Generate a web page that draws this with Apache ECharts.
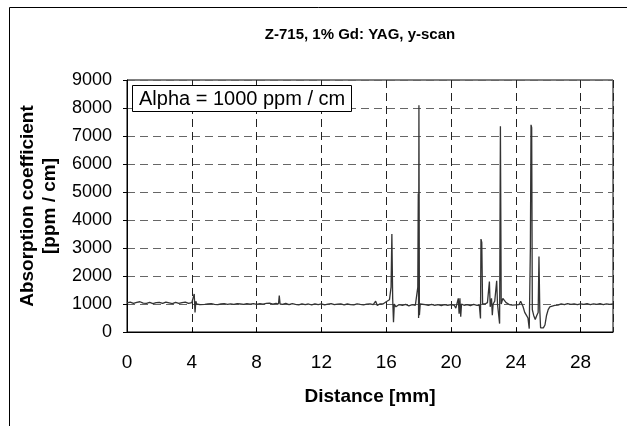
<!DOCTYPE html>
<html>
<head>
<meta charset="utf-8">
<script src="https://cdn.jsdelivr.net/npm/echarts@6/dist/echarts.min.js"></script>
<style>
html, body { margin: 0; padding: 0; background: #fff; }
#container { width: 627px; height: 426px; }
</style>
</head>
<body>
<div id="container"></div>
<script>
// scan position (mm) and absorption (ppm/cm)
var distance = [
	0, 0.2, 0.4, 0.6, 0.8, 1.0, 1.2, 1.4, 1.6, 1.8, 2.0, 2.2, 2.4, 2.6, 2.8, 3.0, 3.2, 3.4, 3.6, 3.8,
	4.0, 4.1, 4.15, 4.2, 4.25, 4.3, 4.5, 4.6, 4.8, 5.0, 5.2, 5.4, 5.6, 5.8, 6.0, 6.2, 6.4, 6.6, 6.8,
	7.0, 7.2, 7.4, 7.6, 7.8, 8.0, 8.2, 8.4, 8.6, 8.8, 9.0, 9.2, 9.35, 9.4, 9.45, 9.6, 9.8,
	10.0, 10.2, 10.4, 10.6, 10.8, 11.0, 11.2, 11.4, 11.6, 11.8, 12.0, 12.2, 12.4, 12.6, 12.8,
	13.0, 13.2, 13.4, 13.6, 13.8, 14.0, 14.2, 14.4, 14.6, 14.8, 15.0, 15.2, 15.35, 15.45, 15.6, 15.8,
	16.0, 16.2, 16.3, 16.35, 16.4, 16.45, 16.5, 16.6, 16.8, 17.0, 17.2, 17.4, 17.6, 17.8, 17.9,
	17.95, 17.98, 18.0, 18.02, 18.05, 18.1, 18.2, 18.4, 18.6, 18.8, 19.0, 19.2, 19.4, 19.6, 19.8,
	20.0, 20.2, 20.3, 20.45, 20.5, 20.55, 20.6, 20.65, 20.8, 21.0, 21.2, 21.4, 21.6, 21.75, 21.82,
	21.85, 21.9, 21.95, 22.1, 22.25, 22.37, 22.42, 22.5, 22.55, 22.6, 22.7, 22.82, 22.87, 22.95,
	23.0, 23.05, 23.1, 23.2, 23.3, 23.4, 23.6, 23.8, 24.0, 24.2, 24.3, 24.36, 24.45, 24.55, 24.65,
	24.75, 24.83, 24.9, 24.94, 24.98, 25.02, 25.1, 25.2, 25.3, 25.38, 25.43, 25.48, 25.53, 25.6,
	25.7, 25.8, 25.9, 26.0, 26.1, 26.2, 26.4, 26.6, 26.8, 27.0, 27.2, 27.4, 27.6, 27.8, 28.0,
	28.2, 28.4, 28.6, 28.8, 29.0, 29.2, 29.4, 29.6, 29.8, 30.0
];
var absorption = [
	1040, 1070, 1020, 1060, 1080, 1030, 1020, 1060, 1010, 1050, 1060, 1020, 1070, 1040, 1010, 1060, 1020, 1050, 1070, 1020,
	1050, 1080, 1360, 700, 1100, 1000, 980, 1010, 985, 1000, 1010, 985, 980, 1000, 1010, 985, 1005, 990, 1015,
	1000, 985, 1010, 995, 1015, 985, 1015, 995, 1020, 1035, 995, 1025, 1000, 1300, 1000, 985, 1025,
	975, 1015, 985, 965, 1005, 975, 1000, 965, 1005, 980, 1005, 970, 995, 1010, 975,
	995, 1005, 970, 1000, 980, 965, 1005, 985, 970, 995, 1005, 975, 1100, 950, 1000, 1000,
	1080, 1150, 1600, 3500, 1200, 350, 1000, 900, 980, 950, 985, 935, 975, 955, 950,
	1600, 4950, 500, 8100, 600, 1000, 945, 975, 955, 985, 955, 975, 945, 980, 955,
	975, 955, 850, 1200, 650, 1200, 550, 1000, 955, 975, 945, 985, 955, 950, 480,
	3320, 3200, 1000, 1000, 1050, 1800, 900, 1200, 600, 1000, 1100, 1830, 1000, 1050,
	300, 7350, 1000, 1200, 1150, 1050, 980, 960, 970, 980, 1100, 1150, 900, 700, 600,
	500, 120, 3000, 7400, 7300, 800, 600, 450, 600, 700, 2700, 800, 150, 200,
	150, 250, 600, 800, 900, 880, 950, 960, 1005, 975, 1015, 985, 1005, 975, 1005,
	985, 1015, 980, 1005, 985, 1010, 975, 1005, 985, 1000
];
var xTicks = [0, 4, 8, 12, 16, 20, 24, 28];
var yTicks = [0, 1000, 2000, 3000, 4000, 5000, 6000, 7000, 8000, 9000];

var points = [];
for (var i = 0; i < distance.length; i++) {
	points.push([distance[i], absorption[i]]);
}

var dom = document.getElementById("container");
var myChart = echarts.init(dom, null, {renderer: 'canvas'});
var font = 'Liberation Sans, Arial, sans-serif';
var option = {
	animation: false,
	backgroundColor: '#fff',
	title: [{
		text: 'Z-715, 1% Gd: YAG, y-scan',
		left: 355,
		top: 22,
		textAlign: 'center',
		textStyle: {fontFamily: font, fontSize: 15, fontWeight: 'bold', color: '#000'}
	}, {
		text: 'Alpha = 1000 ppm / cm',
		left: 132,
		top: 85,
		padding: [4, 7, 3, 7],
		borderColor: '#000',
		borderWidth: 1,
		backgroundColor: '#fff',
		textStyle: {fontFamily: font, fontSize: 20, fontWeight: 'normal', color: '#000'}
	}],
	graphic: [{
		type: 'rect',
		shape: {x: 9.5, y: 7.5, width: 700, height: 500},
		style: {fill: 'none', stroke: '#000', lineWidth: 1},
		silent: true
	}],
	grid: {
		left: 127,
		top: 80,
		right: 14,
		bottom: 94,
		show: true,
		borderColor: '#000',
		borderWidth: 1
	},
	xAxis: {
		type: 'value',
		min: 0,
		max: 30,
		interval: 4,
		name: 'Distance [mm]',
		nameLocation: 'middle',
		nameGap: 55,
		nameTextStyle: {fontFamily: font, fontSize: 19, fontWeight: 'bold', color: '#000'},
		axisLine: {lineStyle: {color: '#000', width: 1}},
		axisTick: {show: true, inside: true, length: 4, lineStyle: {color: '#000'}},
		axisLabel: {
			fontFamily: font, fontSize: 19, color: '#000', margin: 21,
			showMaxLabel: false,
			formatter: function(v) { return xTicks.indexOf(v) >= 0 ? String(v) : ''; }
		},
		splitLine: {show: true, lineStyle: {color: '#222', width: 1, type: [8, 5]}}
	},
	yAxis: {
		type: 'value',
		min: 0,
		max: 9000,
		interval: 1000,
		name: 'Absorption coefficient\n[ppm / cm]',
		nameLocation: 'middle',
		nameGap: 58,
		nameTextStyle: {fontFamily: font, fontSize: 19, fontWeight: 'bold', color: '#000', lineHeight: 22},
		axisLine: {show: true, lineStyle: {color: '#000', width: 1}},
		axisTick: {show: true, length: 4, lineStyle: {color: '#000'}},
		axisLabel: {
			fontFamily: font, fontSize: 18, color: '#000', margin: 15,
			formatter: function(v) { return yTicks.indexOf(v) >= 0 ? String(v) : ''; }
		},
		splitLine: {show: true, lineStyle: {color: '#666', width: 1, type: [8, 5]}}
	},
	series: [{
		type: 'line',
		data: points,
		showSymbol: false,
		lineStyle: {color: '#333', width: 1.3},
		z: 3
	}]
};
myChart.setOption(option, true);
</script>
</body>
</html>
